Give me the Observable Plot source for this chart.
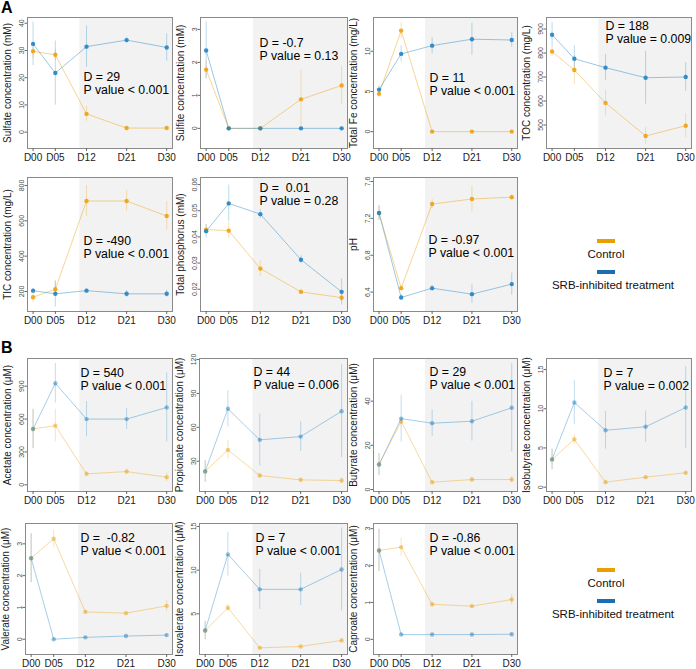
<!DOCTYPE html>
<html><head><meta charset="utf-8">
<script src="https://cdn.jsdelivr.net/npm/d3@7"></script>
<script src="https://cdn.jsdelivr.net/npm/@observablehq/plot@0.6"></script>
<style>
body{margin:0;background:#fff;font-family:"Liberation Sans",Arial,sans-serif;}
#wrap{position:relative;width:696px;height:669px;overflow:hidden;background:#fff;}
#wrap svg{position:absolute;overflow:visible;}
.tag{position:absolute;font-weight:bold;font-size:16px;color:#000;line-height:1;}
.legbar{position:absolute;width:18px;height:4px;}
.legtxt{position:absolute;font-size:11.5px;color:#111;white-space:nowrap;transform:translateX(-50%);line-height:1;}
[aria-label="y-axis tick label"] text{fill:#4d4d4d;}
[aria-label="x-axis tick label"] text{fill:#1a1a1a;}
[aria-label="y-axis label"] text{fill:#1a1a1a;}
</style></head><body><div id="wrap"></div>
<script>
// ---- data ----
const days = [0, 5, 12, 21, 30];
const dayLabels = ["D00", "D05", "D12", "D21", "D30"];

const sulfateCtrl = [29.7, 28.4, 6.7, 1.5, 1.5];
const sulfateCtrlErr = [2.8, 2, 2.7, 0.5, 0.4];
const sulfateSrb = [32.4, 21.7, 31.4, 33.8, 31.1];
const sulfateSrbErr = [8, 11.8, 7.6, 1, 5];

const sulfiteCtrl = [1.78, 0, 0, 0.88, 1.3];
const sulfiteCtrlErr = [0.27, 0, 0, 0.9, 0.58];
const sulfiteSrb = [2.36, 0, 0, 0, 0];
const sulfiteSrbErr = [0.86, 0, 0, 0, 0];

const feCtrl = [4.7, 12.57, 0, 0, 0];
const feCtrlErr = [0.5, 1, 0, 0, 0];
const feSrb = [5.23, 9.67, 10.7, 11.5, 11.4];
const feSrbErr = [0.5, 1, 1, 2, 0.9];

const tocCtrl = [806, 729, 592, 454, 497];
const tocCtrlErr = [20, 60, 54, 35, 50];
const tocSrb = [876, 776, 739, 697, 700];
const tocSrbErr = [50, 54, 55, 110, 60];

const ticCtrl = [168, 213, 712, 712, 627];
const ticCtrlErr = [30, 40, 88, 58, 82];
const ticSrb = [205, 187, 205, 187, 187];
const ticSrbErr = [10, 75, 10, 20, 20];

const phosCtrl = [0.0428, 0.0424, 0.0279, 0.019, 0.0168];
const phosCtrlErr = [0.002, 0.003, 0.003, 0.001, 0.0015];
const phosSrb = [0.0422, 0.0528, 0.0487, 0.0313, 0.019];
const phosSrbErr = [0.0025, 0.007, 0.0017, 0.0015, 0.005];

const phCtrl = [7.258, 6.443, 7.355, 7.41, 7.43];
const phCtrlErr = [0.08, 0.03, 0.05, 0.14, 0.03];
const phSrb = [7.258, 6.342, 6.443, 6.378, 6.487];
const phSrbErr = [0.08, 0.03, 0.03, 0.1, 0.12];

const acetateCtrl = [510, 540, 100, 121, 70];
const acetateCtrlErr = [180, 150, 20, 20, 40];
const acetateSrb = [509, 927, 600, 600, 706];
const acetateSrbErr = [180, 180, 160, 95, 315];

const propionateCtrl = [21, 40, 17.3, 13.5, 12.9];
const propionateCtrlErr = [9.6, 8.5, 2, 2, 2.5];
const propionateSrb = [21, 76.4, 48.9, 51.8, 74.2];
const propionateSrbErr = [9.6, 16, 23, 13, 41];

const butyrateCtrl = [11.3, 30.8, 3.3, 4.5, 4.5];
const butyrateCtrlErr = [5, 1.5, 0.5, 1, 1.5];
const butyrateSrb = [11.3, 32.1, 30, 30.9, 37];
const butyrateSrbErr = [5, 10.6, 6, 9, 20];

const isobutyrateCtrl = [3.54, 6.1, 0.64, 1.28, 1.83];
const isobutyrateCtrlErr = [1.3, 0.6, 0.3, 0.2, 0.3];
const isobutyrateSrb = [3.54, 10.8, 7.25, 7.7, 10.15];
const isobutyrateSrbErr = [1.3, 2.8, 2.4, 2, 5.2];

const valerateCtrl = [2.55, 3.16, 0.86, 0.82, 1.05];
const valerateCtrlErr = [0.77, 0.28, 0.05, 0.03, 0.18];
const valerateSrb = [2.55, 0, 0.06, 0.1, 0.13];
const valerateSrbErr = [0.77, 0.02, 0.02, 0.02, 0.02];

const isovalerateCtrl = [3.09, 5.69, 1.1, 1.26, 1.95];
const isovalerateCtrlErr = [1.05, 0.4, 0.1, 0.1, 0.2];
const isovalerateSrb = [3.09, 11.8, 7.8, 7.8, 10.08];
const isovalerateSrbErr = [1.05, 2.5, 2.3, 1.85, 4.75];

const caproateCtrl = [2.41, 2.5, 0.95, 0.9, 1.08];
const caproateCtrlErr = [0.57, 0.25, 0.05, 0.03, 0.15];
const caproateSrb = [2.41, 0.13, 0.13, 0.13, 0.14];
const caproateSrbErr = [0.57, 0.02, 0.02, 0.02, 0.02];

const yTitles = ["Sulfate concentration (mM)", "Sulfite concentration (mM)", "Total Fe concentration (mg/L)", "TOC concentration (mg/L)",
  "TIC concentration (mg/L)", "Total phosphorus (mM)", "pH",
  "Acetate concentration (\u03bcM)", "Propionate concentration (\u03bcM)", "Butyrate concentration (\u03bcM)", "Isobutyrate concentration (\u03bcM)",
  "Valerate concentration (\u03bcM)", "Isovalerate concentration (\u03bcM)", "Caproate concentration (\u03bcM)"];
const dTexts = ["D = 29", "D = -0.7", "D = 11", "D = 188", "D = -490", "D =\u00a0 0.01", "D = -0.97",
  "D = 540", "D = 44", "D = 29", "D = 7", "D =\u00a0 -0.82", "D = 7", "D = -0.86"];
const pTexts = ["P value < 0.001", "P value = 0.13", "P value < 0.001", "P value = 0.009", "P value < 0.001", "P value = 0.28", "P value < 0.001",
  "P value < 0.001", "P value = 0.006", "P value < 0.001", "P value = 0.002", "P value < 0.001", "P value < 0.001", "P value < 0.001"];
const yTicks = [[0,10,20,30,40],[0,1,2,3],[0,5,10],[500,600,700,800,900],[200,400,600,800],[0.02,0.03,0.04,0.05,0.06],[6.4,6.8,7.2,7.6],
  [0,300,600,900],[30,60,90,120],[0,20,40],[0,5,10,15],[0,1,2,3],[5,10,15],[0,1,2,3]];
const seriesNames = ["Control", "SRB-inhibited treatment"];

// ---- layout (not data) ----
const ctrlColor = "#EEA20F", srbColor = "#2384C4";
const panels = [
  {c:sulfateCtrl, ce:sulfateCtrlErr, s:sulfateSrb, se:sulfateSrbErr, frame:[27,17,172,148], yd:[-6,42.1], ann:[56,60], row:"A"},
  {c:sulfiteCtrl, ce:sulfiteCtrlErr, s:sulfiteSrb, se:sulfiteSrbErr, frame:[200,17,347,148], yd:[-0.61,3.36], ann:[59,26], row:"A"},
  {c:feCtrl, ce:feCtrlErr, s:feSrb, se:feSrbErr, frame:[373,17,517,148], yd:[-2.1,14.2], ann:[56,61], row:"A"},
  {c:tocCtrl, ce:tocCtrlErr, s:tocSrb, se:tocSrbErr, frame:[546,17,691,148], yd:[402,948], ann:[59,9], row:"A"},
  {c:ticCtrl, ce:ticCtrlErr, s:ticSrb, se:ticSrbErr, frame:[27,177,172,311], yd:[87,845], ann:[56,64], row:"A"},
  {c:phosCtrl, ce:phosCtrlErr, s:phosSrb, se:phosSrbErr, frame:[200,177,347,311], yd:[0.0115,0.0627], ann:[59,11], row:"A"},
  {c:phCtrl, ce:phCtrlErr, s:phSrb, se:phSrbErr, frame:[373,177,517,311], yd:[6.19,7.643], ann:[55,63], row:"A"},
  {c:acetateCtrl, ce:acetateCtrlErr, s:acetateSrb, se:acetateSrbErr, frame:[27,358,172,491], yd:[-61,1153], ann:[53,15], row:"B"},
  {c:propionateCtrl, ce:propionateCtrlErr, s:propionateSrb, se:propionateSrbErr, frame:[199,358,347,491], yd:[3.2,120.9], ann:[54,14], row:"B"},
  {c:butyrateCtrl, ce:butyrateCtrlErr, s:butyrateSrb, se:butyrateSrbErr, frame:[373,358,517,491], yd:[-0.9,59.3], ann:[56,14], row:"B"},
  {c:isobutyrateCtrl, ce:isobutyrateCtrlErr, s:isobutyrateSrb, se:isobutyrateSrbErr, frame:[546,358,691,491], yd:[-0.55,16.4], ann:[57,15], row:"B"},
  {c:valerateCtrl, ce:valerateCtrlErr, s:valerateSrb, se:valerateSrbErr, frame:[25,523,172,654], yd:[-0.48,3.64], ann:[55,15], row:"B"},
  {c:isovalerateCtrl, ce:isovalerateCtrlErr, s:isovalerateSrb, se:isovalerateSrbErr, frame:[199,523,347,654], yd:[0.34,15.34], ann:[56,15], row:"B"},
  {c:caproateCtrl, ce:caproateCtrlErr, s:caproateSrb, se:caproateSrbErr, frame:[373,523,517,654], yd:[-0.41,3.14], ann:[56,15], row:"B"}
];
const xDomain = [-1.25, 31.3];
const shadeStart = 10.5;

const wrap = document.getElementById("wrap");

panels.forEach((p, k) => {
  const [fl, ft, fr, fb] = p.frame;
  const ml = 27, mt = 4, mr = 3, mb = 22;
  const width = fr - fl + ml + mr, height = fb - ft + mt + mb;
  const toRows = (vals, errs, name) => days.map((d, i) => ({day: d, v: vals[i], lo: vals[i] - errs[i], hi: vals[i] + errs[i], series: name}));
  const ctrl = toRows(p.c, p.ce, seriesNames[0]);
  const srb = toRows(p.s, p.se, seriesNames[1]);
  const rowA = p.row === "A";
  const dotOp = rowA ? 0.9 : 0.5;
  const lineOp = rowA ? 0.45 : 0.4;
  const errOp = rowA ? 0.3 : 0.28;
  const fontFamily = '"Liberation Sans", Arial, sans-serif';
  const plot = Plot.plot({
    width, height, marginLeft: ml, marginTop: mt, marginRight: mr, marginBottom: mb,
    x: {domain: xDomain, label: null},
    y: {domain: p.yd, label: null},
    style: {background: "transparent", fontFamily, overflow: "visible"},
    marks: [
      Plot.rect([0], {x1: shadeStart, x2: xDomain[1], y1: p.yd[0], y2: p.yd[1], fill: "#f2f2f2"}),
      Plot.ruleX(ctrl, {x: "day", y1: "lo", y2: "hi", stroke: ctrlColor, strokeOpacity: errOp, strokeWidth: 1}),
      Plot.ruleX(srb, {x: "day", y1: "lo", y2: "hi", stroke: srbColor, strokeOpacity: errOp, strokeWidth: 1}),
      Plot.line(ctrl, {x: "day", y: "v", stroke: ctrlColor, strokeOpacity: lineOp, strokeWidth: 1}),
      Plot.line(srb, {x: "day", y: "v", stroke: srbColor, strokeOpacity: lineOp, strokeWidth: 1}),
      Plot.dot(ctrl, {x: "day", y: "v", r: 2.2, fill: ctrlColor, fillOpacity: dotOp, stroke: null}),
      Plot.dot(srb, {x: "day", y: "v", r: 2.2, fill: srbColor, fillOpacity: dotOp, stroke: null}),
      Plot.frame({stroke: "#8a8a8a", strokeWidth: 1}),
      Plot.axisX({ticks: days, tickFormat: d => dayLabels[days.indexOf(d)], tickSize: 3, tickPadding: 2, fontSize: 10, stroke: "#666", label: null}),
      Plot.axisY({ticks: yTicks[k], tickFormat: d => String(d), tickRotate: -90, tickSize: 2.5, tickPadding: 1.5, fontSize: 7, stroke: "#666",
        label: yTitles[k], labelAnchor: "center", labelOffset: 24, labelArrow: "none"}),
      Plot.text([dTexts[k]], {text: d => d, frameAnchor: "top-left", dx: p.ann[0], dy: p.ann[1], textAnchor: "start", lineAnchor: "middle", fontSize: 12.3, fill: "#000"}),
      Plot.text([pTexts[k]], {text: d => d, frameAnchor: "top-left", dx: p.ann[0], dy: p.ann[1] + 13, textAnchor: "start", lineAnchor: "middle", fontSize: 12.3, fill: "#000"})
    ]
  });
  plot.style.left = (fl - ml) + "px";
  plot.style.top = (ft - mt) + "px";
  plot.querySelectorAll('[aria-label="y-axis label"] text').forEach(t => t.setAttribute("font-size", "10"));
  wrap.appendChild(plot);
});

function tag(t, x, y) {
  const d = document.createElement("div"); d.className = "tag"; d.textContent = t;
  d.style.left = x + "px"; d.style.top = y + "px"; wrap.appendChild(d);
}
tag("A", 1, 0);
tag("B", 1, 340);

function legend(y0) {
  const cols = ["#E8A000", "#1C6DB2"];
  const ys = [y0, y0 + 31];
  seriesNames.forEach((n, i) => {
    const b = document.createElement("div"); b.className = "legbar";
    b.style.background = cols[i];
    b.style.left = "597px"; b.style.top = ys[i] + "px"; wrap.appendChild(b);
    const t = document.createElement("div"); t.className = "legtxt"; t.textContent = n;
    t.style.left = (i === 0 ? 606 : 613) + "px"; t.style.top = (ys[i] + 10) + "px"; wrap.appendChild(t);
  });
}
legend(239);
legend(568);
</script></body></html>
